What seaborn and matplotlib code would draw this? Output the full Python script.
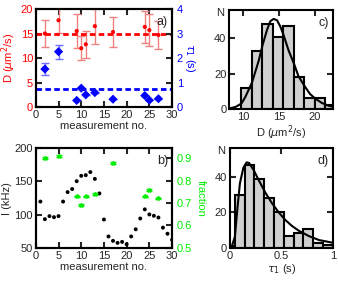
import numpy as np
import matplotlib
matplotlib.use("Agg")
import matplotlib.pyplot as plt
import seaborn as sns

sns.set_style("ticks")
plt.rcParams['font.family'] = ['Liberation Sans', 'DejaVu Sans']
plt.rcParams['font.size'] = 8
plt.rcParams['axes.linewidth'] = 1.5

# panel a: D and tau1 per measurement
meas = [2, 5, 9, 10, 11, 13, 17, 24, 25, 27]
D = [15.0, 17.7, 15.5, 12.0, 12.8, 16.5, 15.3, 16.35, 15.7, 14.7]
D_err = [2.8, 2.6, 3.5, 2.4, 2.7, 3.6, 3.0, 3.3, 3.3, 2.95]
tau = [1.55, 2.26, 0.27, 0.77, 0.50, 0.59, 0.32, 0.47, 0.28, 0.34]
tau_err = [0.24, 0.29, 0, 0, 0, 0, 0, 0, 0, 0]
D_mean = 15.0
tau_mean = 0.74

# panel b: intensity and fraction
meas_all = list(range(1, 31))
I_kHz = [119.8, 93.4, 98, 96.4, 98, 119.8, 134, 138.6, 150.3, 158.4,
         159.4, 164, 153.8, 132, 92.9, 67.5, 60.9, 57.9, 59.4, 55.8,
         67.5, 78.2, 94.4, 108.1, 100.5, 98.5, 95.9, 80.7, 71.6, 62.4]
fraction = [0.90, 0.91, 0.729, 0.69, 0.729, 0.741, 0.88, 0.729, 0.759, 0.72]

# panel c: D histogram
c_edges = [9.72, 11.18, 12.64, 14.10, 15.56, 17.02, 18.48, 19.94, 21.40, 22.86]
c_counts = [12, 33, 48, 41, 47, 18, 6.5, 6.5, 2.5]
c_fit_x = [8.0, 8.9, 9.72, 10.28, 11.2, 12.13, 12.69, 13.29, 13.75, 14.2, 14.68,
           15.14, 15.6, 16.3, 17.08, 17.68, 18.5, 19.3, 20.0, 20.93, 21.85, 22.5]
c_fit_y = [0.3, 1.2, 3.1, 7.0, 15.1, 27.4, 36.5, 44.8, 49.7, 51.0, 50.3,
           46.8, 41.9, 33.2, 25.4, 18.6, 13.2, 8.5, 6.0, 3.5, 1.9, 1.3]

# panel d: tau1 histogram
d_edges = [-0.046, 0.049, 0.144, 0.239, 0.334, 0.429, 0.524, 0.619, 0.714,
           0.809, 0.904, 0.999]
d_counts = [1, 30, 46.5, 38.7, 28, 20.4, 6.9, 8.4, 10.5, 3, 1.9]
d_fit_x = [0.016, 0.049, 0.075, 0.098, 0.131, 0.163, 0.186, 0.229, 0.278, 0.343,
           0.408, 0.474, 0.539, 0.605, 0.67, 0.768, 0.866, 1.0]
d_fit_y = [0.4, 6.4, 23.2, 36.4, 44.9, 48.0, 47.7, 43.9, 38.3, 31.2,
           25.2, 20.0, 15.7, 12.3, 9.7, 6.7, 4.5, 3.0]

fig = plt.figure(figsize=(3.38, 2.81), dpi=100)


def style(ax, right=True):
    ax.tick_params(direction='in', length=4, width=1.5, top=True, right=right,
                   labelsize=8, pad=2)
    for s in ax.spines.values():
        s.set_visible(True)
        s.set_linewidth(1.5)
        s.set_color('black')


# ---- a ----
axa = fig.add_axes([0.106, 0.619, 0.403, 0.349])
axa.errorbar(meas, D, yerr=D_err, fmt='none', ecolor='#f08080', capsize=3, elinewidth=1)
sns.scatterplot(x=meas, y=D, ax=axa, color='red', s=9, edgecolor='none', zorder=3)
axa.axhline(D_mean, color='red', ls=(0, (2, 1.2)), lw=2)
axa.set_xlim(0, 30)
axa.set_ylim(0, 20)
axa.set_xticks(range(0, 31, 5))
axa.set_yticks([0, 5, 10, 15, 20])
axa.set_xlabel('measurement no.', labelpad=1)
axa.set_ylabel('D ($\\mu$m$^2$/s)', color='red', labelpad=2)
style(axa, right=False)
axa.tick_params(axis='y', labelcolor='red')
axa2 = axa.twinx()
axa2.errorbar(meas, tau, yerr=tau_err, fmt='none', ecolor='#6f6fff', capsize=3, elinewidth=1)
sns.scatterplot(x=meas, y=tau, ax=axa2, marker='D', color='blue', s=22, edgecolor='none', zorder=3)
axa2.axhline(tau_mean, color='blue', ls=(0, (2, 1.2)), lw=2)
axa2.set_ylim(0, 4)
axa2.set_yticks([0, 1, 2, 3, 4])
axa2.set_ylabel('$\\tau_1$ (s)', color='blue', rotation=270, labelpad=10)
style(axa2)
axa2.tick_params(axis='y', labelcolor='blue', pad=3.5)
axa.text(0.97, 0.93, 'a)', transform=axa.transAxes, ha='right', va='top', fontsize=9)

# ---- b ----
axb = fig.add_axes([0.106, 0.117, 0.403, 0.356])
sns.scatterplot(x=meas_all, y=I_kHz, ax=axb, color='black', s=8, edgecolor='none', zorder=3)
axb.set_xlim(0, 30)
axb.set_ylim(50, 200)
axb.set_xticks(range(0, 31, 5))
axb.set_yticks([50, 100, 150, 200])
axb.set_xlabel('measurement no.', labelpad=1)
axb.set_ylabel('I (kHz)', labelpad=2)
style(axb, right=False)
axb2 = axb.twinx()
axb2.errorbar(meas, fraction, yerr=0.004, fmt='*', color='#00ee00', ecolor='#00ee00',
              markersize=3, capsize=2, elinewidth=1)
axb2.set_ylim(0.498, 0.945)
axb2.set_yticks([0.5, 0.6, 0.7, 0.8, 0.9])
axb2.set_ylabel('fraction', color='#00ee00', rotation=270, labelpad=10)
style(axb2)
axb2.tick_params(axis='y', labelcolor='#00ee00', pad=3.5)
axb.text(0.97, 0.93, 'b)', transform=axb.transAxes, ha='right', va='top', fontsize=9)

# ---- c ----
axc = fig.add_axes([0.678, 0.612, 0.307, 0.352])
c_mid = [(c_edges[i] + c_edges[i + 1]) / 2 for i in range(len(c_counts))]
sns.histplot(x=c_mid, weights=c_counts, bins=c_edges, ax=axc, color='#d0d0d0',
             edgecolor='black', linewidth=1.5, alpha=1)
sns.lineplot(x=c_fit_x, y=c_fit_y, ax=axc, color='black', lw=1.5)
axc.set_xlim(8, 22.5)
axc.set_ylim(0, 56)
axc.set_xticks([10, 15, 20])
axc.set_yticks([0, 20, 40])
axc.set_xlabel('D ($\\mu$m$^2$/s)', labelpad=1)
axc.set_ylabel('')
style(axc)
axc.text(-0.05, 0.97, 'N', transform=axc.transAxes, ha='right', va='center', fontsize=8)
axc.text(0.96, 0.93, 'c)', transform=axc.transAxes, ha='right', va='top', fontsize=9)

# ---- d ----
axd = fig.add_axes([0.680, 0.117, 0.305, 0.356])
d_mid = [(d_edges[i] + d_edges[i + 1]) / 2 for i in range(len(d_counts))]
sns.histplot(x=d_mid, weights=d_counts, bins=d_edges, ax=axd, color='#d0d0d0',
             edgecolor='black', linewidth=1.5, alpha=1)
sns.lineplot(x=d_fit_x, y=d_fit_y, ax=axd, color='black', lw=1.5)
axd.set_xlim(0, 1)
axd.set_ylim(0, 56)
axd.set_xticks([0, 0.5, 1])
axd.set_xticklabels(['0', '0.5', '1'])
axd.set_yticks([0, 20, 40])
axd.set_xlabel('$\\tau_1$ (s)', labelpad=1)
axd.set_ylabel('')
style(axd)
axd.text(-0.05, 0.97, 'N', transform=axd.transAxes, ha='right', va='center', fontsize=8)
axd.text(0.96, 0.93, 'd)', transform=axd.transAxes, ha='right', va='top', fontsize=9)

fig.savefig('out.png', dpi=100)
